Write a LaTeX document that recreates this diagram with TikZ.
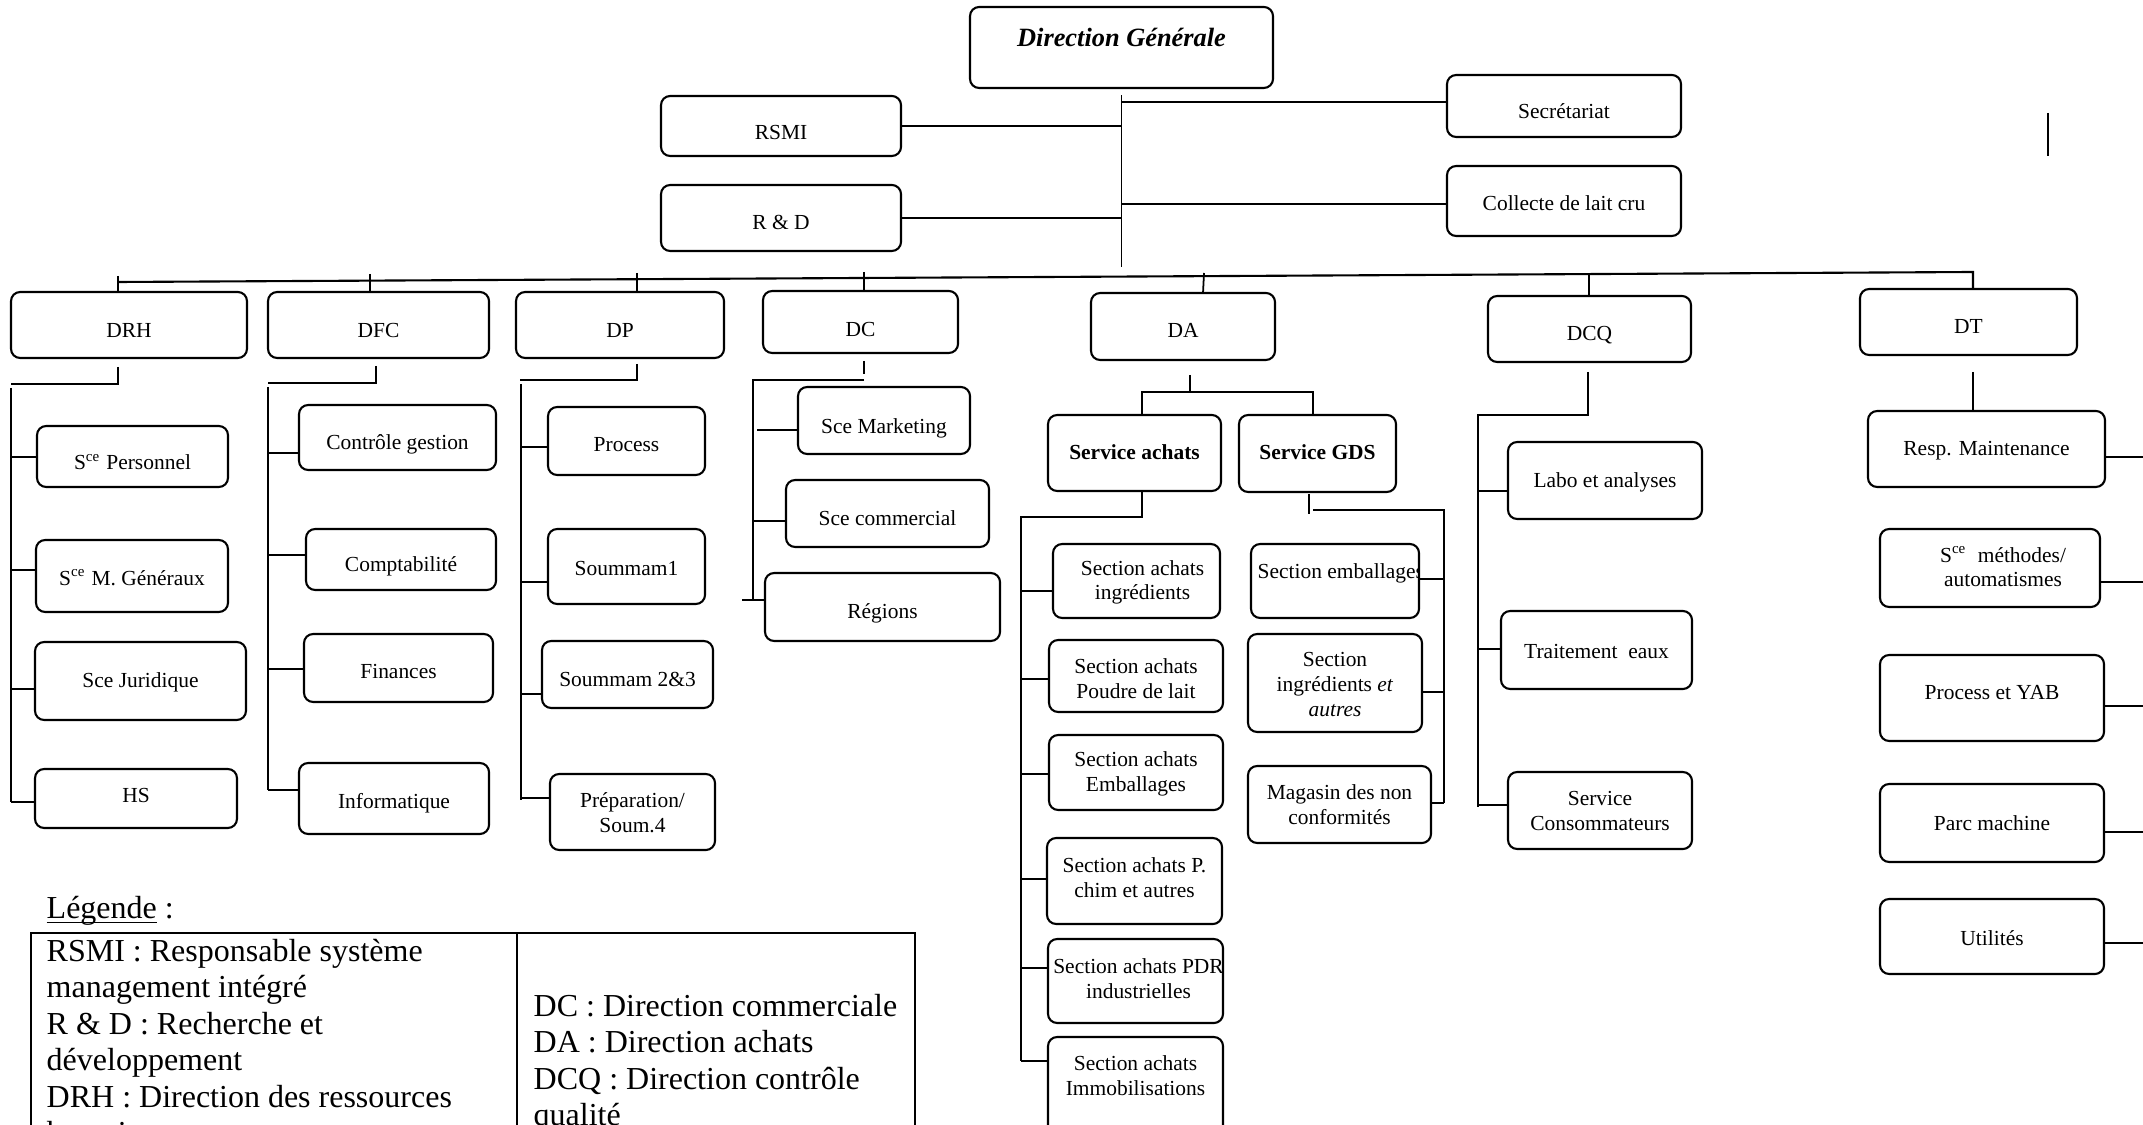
\documentclass[tikz,border=0pt]{standalone}
\usepackage{fontspec}
\setmainfont{Liberation Serif}
\usetikzlibrary{fit}

% box given by two corners (in px units), text placed on a baseline
\newcommand\orgbox[5]{\node[box, fit={(#2,#3)(#4,#5)}] (#1) {};}
\newcommand\orgtext[4][0]{\node[lbl, xshift={(#1)*0.01cm}] (#2-t) at (#2.center |- 0,#3) {#4};}
\newcommand\ml[1]{\begin{tabular}[b]{@{}c@{}}#1\end{tabular}}
\newcommand\feedL[3]{\draw[link] (#1 |- 0,#2) -- (#3.west |- 0,#2);}
\newcommand\feedR[3]{\draw[link] (#3.east |- 0,#2) -- (#1 |- 0,#2);}
\newcommand\sce{S\textsuperscript{ce}}
\newcommand\ulx[1]{\setbox0\hbox{#1}\rlap{\rule[-1.5pt]{\wd0}{0.5pt}}\box0\relax}

\tikzset{
  box/.style={draw, line width=0.6pt, rounded corners=2.6pt, inner sep=0pt, outer sep=0pt},
  lbl/.style={font=\fontsize{6.1}{7}\selectfont, inner sep=0pt, anchor=base},
  link/.style={line width=0.5pt},
  frame/.style={line width=0.6pt},
  legtext/.style={font=\fontsize{9.1}{10.4}\selectfont, inner sep=0pt, anchor=base west},
}

\begin{document}
\begin{tikzpicture}[x=0.01cm, y=-0.01cm]
\useasboundingbox (0,0) rectangle (2143,1125);
\fill[white] (0,0) rectangle (2143,1125);
\clip (0,0) rectangle (2143,1125);

% ---------- top level ----------
\orgbox{dg}{970}{7}{1273}{88}
\node[lbl, font=\fontsize{7.5}{9}\selectfont\bfseries\itshape] (dg-t) at (dg.center |- 0,47) {Direction Générale};
\orgbox{rsmi}{661}{96}{901}{156}      \orgtext{rsmi}{140}{RSMI}
\orgbox{rnd}{661}{185}{901}{251}      \orgtext{rnd}{230}{R \& D}
\orgbox{sec}{1447}{75}{1681}{137}     \orgtext{sec}{119}{Secrétariat}
\orgbox{lait}{1447}{166}{1681}{236}   \orgtext{lait}{211}{Collecte de lait cru}

\draw[link] ([yshift=-2pt]dg.south) -- (dg.south |- 0,267);
\draw[link] (rsmi.east) -- (dg.south |- rsmi.east);
\draw[link] (rnd.east) -- (dg.south |- rnd.east);
\draw[link] (dg.south |- 0,102) -- (sec.west |- 0,102);
\draw[link] (dg.south |- 0,204) -- (lait.west |- 0,204);
\coordinate (mark-a) at (2048,113);
\coordinate (mark-b) at (2048,156);
\draw[link] (mark-a) -- (mark-b);

% ---------- directions ----------
\orgbox{drh}{11}{292}{247}{358}     \orgtext{drh}{338}{DRH}
\orgbox{dfc}{268}{292}{489}{358}    \orgtext{dfc}{338}{DFC}
\orgbox{dp}{516}{292}{724}{358}     \orgtext{dp}{338}{DP}
\orgbox{dc}{763}{291}{958}{353}     \orgtext{dc}{337}{DC}
\orgbox{da}{1091}{293}{1275}{360}   \orgtext{da}{338}{DA}
\orgbox{dcq}{1488}{296}{1691}{362}  \orgtext{dcq}{341}{DCQ}
\orgbox{dt}{1860}{289}{2077}{355}   \orgtext{dt}{334}{DT}

\coordinate (bus-l) at (118,282);
\coordinate (bus-r) at (1973,272);
\draw[link, line width=0.6pt] (bus-l) -- (bus-r) -- (bus-r |- dt.north);
\draw[link] (118,276) -- (drh.north -| 118,0);
\draw[link] (370,274) -- (dfc.north -| 370,0);
\draw[link] (637,273) -- (dp.north -| 637,0);
\draw[link] (864,272) -- (dc.north -| 864,0);
\draw[link] (1204,273) -- (da.north -| 1203,0);
\draw[link] (1589,273) -- (dcq.north -| 1589,0);

% ---------- DRH ----------
\orgbox{spers}{37}{426}{228}{487}   \orgtext{spers}{470}{\sce{} Personnel}
\orgbox{smg}{36}{540}{228}{612}     \orgtext{smg}{585}{\sce{} M. Généraux}
\orgbox{sjur}{35}{642}{246}{720}    \orgtext{sjur}{687}{Sce Juridique}
\orgbox{hs}{35}{769}{237}{828}      \orgtext{hs}{802}{HS}
\draw[link] (118,367) |- (11,384);
\coordinate (drh-spine) at (11,388);
\draw[link] (drh-spine) -- (11,802);
\feedL{drh-spine}{457}{spers}
\feedL{drh-spine}{570}{smg}
\feedL{drh-spine}{689}{sjur}
\feedL{drh-spine}{802}{hs}

% ---------- DFC ----------
\orgbox{cg}{299}{405}{496}{470}     \orgtext{cg}{450}{Contrôle gestion}
\orgbox{compta}{306}{529}{496}{590} \orgtext{compta}{572}{Comptabilité}
\orgbox{fin}{304}{634}{493}{702}    \orgtext{fin}{679}{Finances}
\orgbox{info}{299}{763}{489}{834}   \orgtext{info}{808}{Informatique}
\draw[link] (376,366) |- (268,383);
\coordinate (dfc-spine) at (268,387);
\draw[link] (dfc-spine) -- (268,790);
\feedL{dfc-spine}{453}{cg}
\feedL{dfc-spine}{555}{compta}
\feedL{dfc-spine}{669}{fin}
\feedL{dfc-spine}{790}{info}

% ---------- DP ----------
\orgbox{proc}{548}{407}{705}{475}   \orgtext{proc}{452}{Process}
\orgbox{s1}{548}{529}{705}{604}     \orgtext{s1}{575}{Soummam1}
\orgbox{s23}{542}{641}{713}{708}    \orgtext{s23}{686}{Soummam 2\&3}
\orgbox{prep}{550}{774}{715}{850}   \orgtext{prep}{832}{\ml{Préparation/\\Soum.4}}
\draw[link] (637,364) |- (520,380);
\coordinate (dp-spine) at (521,384);
\draw[link] (dp-spine) -- (521,800);
\feedL{dp-spine}{447}{proc}
\feedL{dp-spine}{582}{s1}
\feedL{dp-spine}{694}{s23}
\feedL{dp-spine}{798}{prep}

% ---------- DC ----------
\orgbox{mkt}{798}{387}{970}{454}    \orgtext{mkt}{434}{Sce Marketing}
\orgbox{com}{786}{480}{989}{547}    \orgtext{com}{526}{Sce commercial}
\orgbox{reg}{765}{573}{1000}{641}   \orgtext{reg}{618}{Régions}
\draw[link] (864,361) -- (864,374);
\coordinate (dc-spine) at (753,380);
\draw[link] (864,380) -- (dc-spine) -- (753,600);
\draw[link] (757,430) -- (mkt.west |- 0,430);
\feedL{dc-spine}{521}{com}
\draw[link] (742,600) -- (reg.west |- 0,600);

% ---------- DA ----------
\orgbox{sach}{1048}{415}{1221}{491}
\node[lbl, font=\fontsize{6.1}{7}\selectfont\bfseries] (sach-t) at (sach.center |- 0,460) {Service achats};
\orgbox{gds}{1239}{415}{1396}{492}
\node[lbl, font=\fontsize{6.1}{7}\selectfont\bfseries] (gds-t) at (gds.center |- 0,460) {Service GDS};
\draw[link] (1190,375) -- (1190,392);
\draw[link] (sach.north -| 1142,0) |- (1313,392) -- (gds.north -| 1313,0);

\orgbox{sing}{1053}{544}{1220}{618}   \orgtext[6]{sing}{600}{\ml{Section achats\\ingrédients}}
\orgbox{spou}{1049}{640}{1223}{712}   \orgtext{spou}{698}{\ml{Section achats\\Poudre de lait}}
\orgbox{semb}{1049}{735}{1223}{810}   \orgtext{semb}{791}{\ml{Section achats\\Emballages}}
\orgbox{schim}{1047}{838}{1222}{924}  \orgtext{schim}{897}{\ml{Section achats P.\\chim et autres}}
\orgbox{spdr}{1048}{939}{1223}{1023}  \orgtext[3]{spdr}{998}{\ml{Section achats PDR\\industrielles}}
\orgbox{simm}{1048}{1037}{1223}{1140} \orgtext{simm}{1095}{\ml{Section achats\\Immobilisations}}
\coordinate (sach-spine) at (1021,517);
\draw[link] (sach.south -| 1142,0) |- (sach-spine) -- (1021,1061);
\feedL{sach-spine}{591}{sing}
\feedL{sach-spine}{679}{spou}
\feedL{sach-spine}{774}{semb}
\feedL{sach-spine}{879}{schim}
\feedL{sach-spine}{968}{spdr}
\feedL{sach-spine}{1061}{simm}

\orgbox{gemb}{1251}{544}{1419}{618}
\begin{scope}
  \clip (1251,544) rectangle (1418,618);
  \node[lbl, anchor=base west] (gemb-t) at (1257,578) {Section emballages};
\end{scope}
\orgbox{ging}{1248}{634}{1422}{732}   \orgtext{ging}{716}{\ml{Section\\ingrédients \textit{et}\\\textit{autres}}}
\orgbox{gmag}{1248}{766}{1431}{843}   \orgtext{gmag}{824}{\ml{Magasin des non\\conformités}}
\draw[link] (1309,494) -- (1309,514);
\coordinate (gds-spine) at (1444,510);
\draw[link] (1313,510) -- (gds-spine) -- (1444,803);
\feedR{gds-spine}{579}{gemb}
\feedR{gds-spine}{692}{ging}
\feedR{gds-spine}{803}{gmag}

% ---------- DCQ ----------
\orgbox{labo}{1508}{442}{1702}{519}   \orgtext{labo}{488}{Labo et analyses}
\orgbox{teaux}{1501}{611}{1692}{689}  \orgtext{teaux}{658}{Traitement\ \ eaux}
\orgbox{scons}{1508}{772}{1692}{849}  \orgtext{scons}{830}{\ml{Service\\Consommateurs}}
\coordinate (dcq-spine) at (1478,415);
\draw[link] (1588,372) |- (dcq-spine) -- (1478,807);
\feedL{dcq-spine}{491}{labo}
\feedL{dcq-spine}{649}{teaux}
\feedL{dcq-spine}{805}{scons}

% ---------- DT ----------
\orgbox{rmaint}{1868}{411}{2105}{487} \orgtext{rmaint}{456}{Resp. Maintenance}
\orgbox{meth}{1880}{529}{2100}{607}   \orgtext[13]{meth}{587}{\ml{\sce{}\ \ méthodes/\\automatismes}}
\orgbox{pyab}{1880}{655}{2104}{741}   \orgtext{pyab}{699}{Process et YAB}
\orgbox{parc}{1880}{784}{2104}{862}   \orgtext{parc}{830}{Parc machine}
\orgbox{util}{1880}{899}{2104}{974}   \orgtext{util}{945}{Utilités}
\draw[link] (1973,372) -- (rmaint.north -| 1973,0);
\coordinate (dt-edge) at (2160,0);
\feedR{dt-edge}{457}{rmaint}
\feedR{dt-edge}{582}{meth}
\feedR{dt-edge}{706}{pyab}
\feedR{dt-edge}{832}{parc}
\feedR{dt-edge}{943}{util}

% ---------- legend ----------
\node[legtext] (leg-title) at (46,918) {\ulx{Légende} :};
\coordinate (tab-ne) at (915,933);
\coordinate (tab-mid) at (517,933);
\draw[frame] (31,1150) |- (tab-ne) -- (915,1150);
\draw[frame] (tab-mid) -- (517,1150);
\node[legtext] (leg-left) at (46,961) {\begin{tabular}[t]{@{}l@{}}
RSMI : Responsable système\\
management intégré\\
R \& D : Recherche et\\
développement\\
DRH : Direction des ressources\\
humaines\end{tabular}};
\node[legtext] (leg-right) at (533,1016) {\begin{tabular}[t]{@{}l@{}}
DC : Direction commerciale\\
DA : Direction achats\\
DCQ : Direction contrôle\\
qualité\end{tabular}};
\end{tikzpicture}
\end{document}
